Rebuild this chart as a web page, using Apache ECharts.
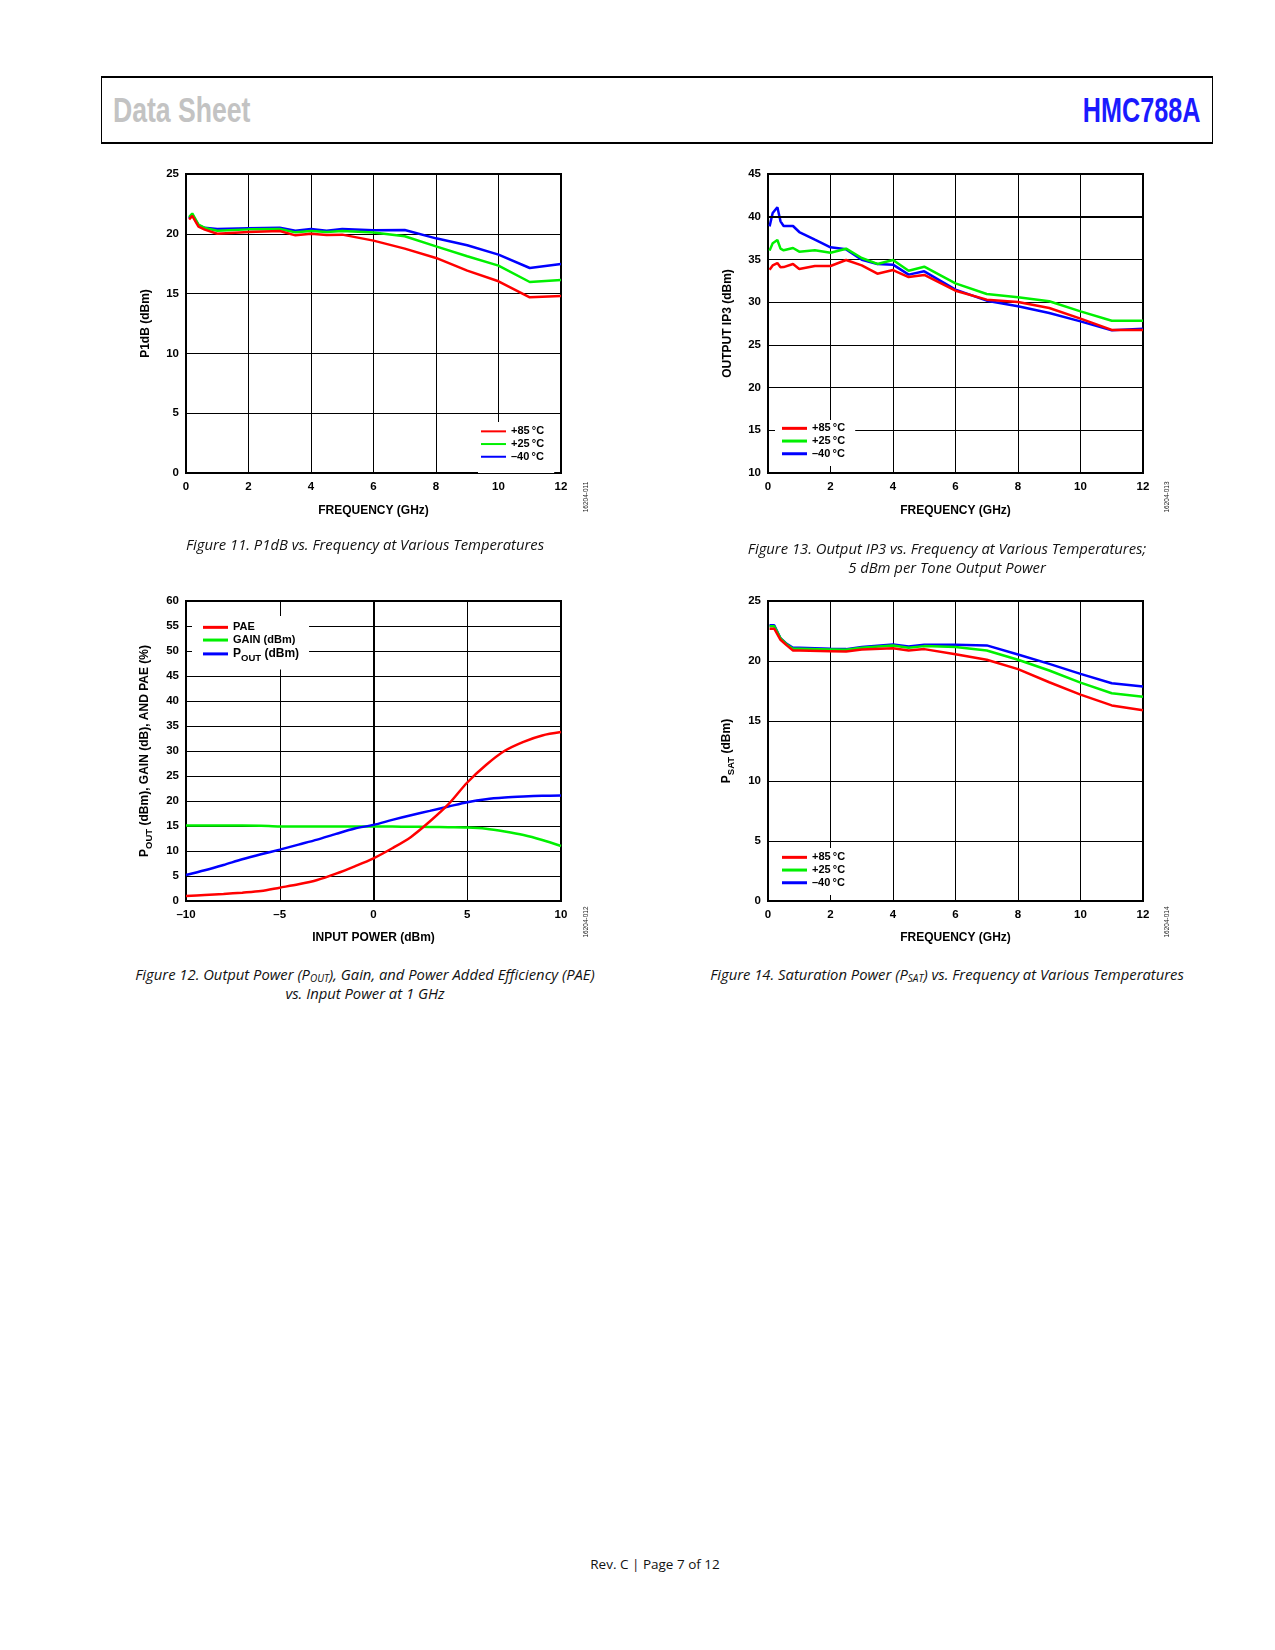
<!DOCTYPE html>
<html>
<head>
<meta charset="utf-8">
<title>HMC788A</title>
<script src="https://cdn.jsdelivr.net/npm/echarts/dist/echarts.min.js"></script>
<style>
  html, body { margin: 0; padding: 0; background: #fff; }
  #page { position: relative; width: 1275px; height: 1650px; overflow: hidden; background: #fff; }
  .chart { position: absolute; width: 500px; height: 380px; }
  .hdr { position: absolute; left: 101px; top: 76px; width: 1110px; height: 64px;
         border-top: 2px solid #000; border-bottom: 2px solid #000;
         border-left: 1px solid #000; border-right: 1px solid #000; }
  .hdr span { position: absolute; top: 12px; font-family: "Liberation Sans", sans-serif;
              font-weight: bold; font-size: 35px; white-space: nowrap; }
  .cap { position: absolute; text-align: center; font-family: "Open Sans", sans-serif; font-style: italic;
         font-size: 14.8px; line-height: 19px; color: #111; }
  .cap sub { font-size: 10px; vertical-align: -2px; line-height: 0; }
  .fid { position: absolute; font-family: "Liberation Sans", sans-serif; font-size: 6.5px; color: #222;
         transform: translate(-50%, -50%) rotate(-90deg); white-space: nowrap; }
  .foot { position: absolute; left: 0; width: 1310px; top: 1555px; text-align: center;
          font-family: "Open Sans", sans-serif; font-size: 13.5px; color: #111; }
</style>
</head>
<body>
<div id="page">
  <div class="hdr">
    <span style="left:11px;color:#c3c3c3;transform:scaleX(0.76);transform-origin:left center;">Data Sheet</span>
    <span style="right:12px;color:#1a1aff;transform:scaleX(0.72);transform-origin:right center;">HMC788A</span>
  </div>

  <div id="c11" class="chart" style="left:100px;top:150px;"></div>
  <div id="c13" class="chart" style="left:680px;top:150px;"></div>
  <div id="c12" class="chart" style="left:100px;top:577px;"></div>
  <div id="c14" class="chart" style="left:680px;top:577px;"></div>

  <div class="fid" style="left:585px;top:497px;">16204-011</div>
  <div class="fid" style="left:1166px;top:497px;">16204-013</div>
  <div class="fid" style="left:585px;top:922px;">16204-012</div>
  <div class="fid" style="left:1166px;top:922px;">16204-014</div>

  <div class="cap" style="left:65px;width:600px;top:535px;">Figure 11. P1dB vs. Frequency at Various Temperatures</div>
  <div class="cap" style="left:647px;width:600px;top:539px;">Figure 13. Output IP3 vs. Frequency at Various Temperatures;<br>5 dBm per Tone Output Power</div>
  <div class="cap" style="left:15px;width:700px;top:965px;">Figure 12. Output Power (P<sub>OUT</sub>), Gain, and Power Added Efficiency (PAE)<br>vs. Input Power at 1 GHz</div>
  <div class="cap" style="left:597px;width:700px;top:965px;">Figure 14. Saturation Power (P<sub>SAT</sub>) vs. Frequency at Various Temperatures</div>

  <div class="foot">Rev. C | Page 7 of 12</div>
</div>

<script>
// ---- Figure 11: P1dB vs frequency ----
var p1dbFreq = [0.1, 0.2, 0.4, 0.6, 1, 2, 3, 3.5, 4, 4.5, 5, 6, 7, 8, 9, 10, 11, 12];
var p1db85   = [21.2, 21.5, 20.6, 20.35, 20.0, 20.15, 20.23, 19.87, 20.0, 19.9, 19.93, 19.43, 18.76, 17.98, 16.92, 16.03, 14.69, 14.8];
var p1db25   = [21.4, 21.7, 20.76, 20.49, 20.26, 20.37, 20.4, 20.12, 20.23, 20.15, 20.23, 20.1, 19.79, 18.95, 18.12, 17.34, 15.97, 16.14];
var p1dbM40  = [21.3, 21.6, 20.7, 20.5, 20.4, 20.46, 20.51, 20.26, 20.4, 20.26, 20.4, 20.29, 20.32, 19.62, 19.04, 18.26, 17.14, 17.48];

// ---- Figure 13: Output IP3 vs frequency ----
var ip3Freq = [0.05, 0.15, 0.3, 0.4, 0.5, 0.8, 1, 1.5, 2, 2.5, 3, 3.5, 4, 4.5, 5, 6, 7, 8, 9, 10, 11, 12];
var ip385   = [33.8, 34.3, 34.58, 34.08, 34.1, 34.47, 33.88, 34.23, 34.23, 34.93, 34.31, 33.33, 33.76, 32.94, 33.18, 31.34, 30.29, 30.02, 29.32, 28.07, 26.75, 26.75];
var ip325   = [36.03, 36.9, 37.27, 36.26, 36.07, 36.34, 35.91, 36.07, 35.79, 36.26, 35.17, 34.47, 34.93, 33.68, 34.15, 32.2, 30.95, 30.56, 30.1, 28.92, 27.83, 27.83];
var ip3M40  = [38.87, 40.43, 41.1, 39.46, 38.91, 38.91, 38.21, 37.31, 36.42, 36.18, 34.97, 34.47, 34.39, 33.22, 33.61, 31.46, 30.17, 29.51, 28.73, 27.75, 26.7, 26.9];

// ---- Figure 12: Pout, gain, PAE vs input power at 1 GHz ----
var pin  = [-10, -9, -8, -7, -6, -5, -4, -3, -2, -1, 0, 1, 2, 3, 4, 5, 6, 7, 8, 9, 10];
var pae  = [1.0, 1.2, 1.4, 1.67, 2.0, 2.67, 3.34, 4.2, 5.47, 6.94, 8.54, 10.55, 12.82, 15.89, 19.36, 23.7, 27.2, 30.04, 31.84, 33.11, 33.78];
var gain = [15.09, 15.09, 15.09, 15.09, 15.05, 14.9, 14.9, 14.9, 14.9, 14.9, 14.9, 14.88, 14.85, 14.8, 14.75, 14.69, 14.45, 13.9, 13.2, 12.2, 11.0];
var pout = [5.2, 6.14, 7.2, 8.34, 9.35, 10.28, 11.28, 12.28, 13.42, 14.49, 15.22, 16.22, 17.16, 18.02, 18.89, 19.76, 20.36, 20.69, 20.89, 21.03, 21.09];

// ---- Figure 14: Psat vs frequency ----
var psatFreq = [0.05, 0.2, 0.4, 0.6, 0.8, 1, 2, 2.5, 3, 4, 4.5, 5, 6, 7, 8, 9, 10, 11, 12];
var psat85   = [22.69, 22.69, 21.77, 21.3, 20.88, 20.88, 20.82, 20.79, 20.96, 21.07, 20.88, 20.99, 20.57, 20.1, 19.32, 18.23, 17.2, 16.3, 15.9];
var psat25   = [22.9, 22.9, 21.88, 21.38, 21.02, 21.02, 20.96, 20.93, 21.1, 21.3, 21.1, 21.24, 21.16, 20.88, 20.1, 19.21, 18.2, 17.31, 17.02];
var psatM40  = [22.97, 22.97, 21.9, 21.43, 21.1, 21.1, 21.02, 20.99, 21.16, 21.38, 21.21, 21.35, 21.35, 21.3, 20.54, 19.76, 18.93, 18.15, 17.88];

var tempNames = ["+85\u2009°C", "+25\u2009°C", "–40\u2009°C"];
var RED = "#ff0000", GREEN = "#00f000", BLUE = "#0000ff";
var FONT = "Liberation Sans";

function pair(xs, ys) {
    var out = [];
    for (var i = 0; i < xs.length; i++) out.push([xs[i], ys[i]]);
    return out;
}

function line(name, xs, ys, color, smooth) {
    return {
        type: "line",
        name: name,
        data: pair(xs, ys),
        symbol: "none",
        smooth: smooth || false,
        animation: false,
        itemStyle: { color: color },
        lineStyle: { color: color, width: 2.5 }
    };
}

var dash = function (v) { return String(v).replace("-", "–"); };

var rich = {
    b: { fontFamily: FONT, fontWeight: "bold", fontSize: 12, lineHeight: 15, color: "#000" },
    s: { fontFamily: FONT, fontWeight: "bold", fontSize: 9.5, lineHeight: 15, color: "#000", verticalAlign: "bottom", padding: [0, 0, -2, 0] }
};

function axisX(min, max, step, name, gap) {
    return {
        type: "value", min: min, max: max, interval: step,
        name: name, nameLocation: "middle", nameGap: gap,
        nameTextStyle: { fontFamily: FONT, fontWeight: "bold", fontSize: 12, color: "#000" },
        axisLine: { show: true, lineStyle: { color: "#000", width: 2 } },
        axisTick: { show: false },
        axisLabel: { fontFamily: FONT, fontWeight: "bold", fontSize: 11.5, color: "#000", margin: 8, formatter: dash },
        splitLine: { show: true, lineStyle: { color: "#000", width: 1 } }
    };
}

function axisY(min, max, step, name) {
    return {
        type: "value", min: min, max: max, interval: step,
        name: name, nameLocation: "middle", nameGap: 34, nameRotate: 90,
        nameTextStyle: { fontFamily: FONT, fontWeight: "bold", fontSize: 12, color: "#000", rich: rich },
        axisLine: { show: true, lineStyle: { color: "#000", width: 2 } },
        axisTick: { show: false },
        axisLabel: { fontFamily: FONT, fontWeight: "bold", fontSize: 11.5, color: "#000", margin: 7 },
        splitLine: { show: true, lineStyle: { color: "#000", width: 1 } }
    };
}

function legend(left, top, padding, iconH, names, formatter) {
    var l = {
        data: names,
        orient: "vertical",
        left: left, top: top,
        padding: padding,
        itemGap: 0,
        itemWidth: 25,
        itemHeight: iconH,
        icon: "rect",
        backgroundColor: "#fff",
        selectedMode: false,
        textStyle: { fontFamily: FONT, fontWeight: "bold", fontSize: 11, lineHeight: 12.7, color: "#000", padding: [0, 0, 0, 0], rich: rich }
    };
    if (formatter) l.formatter = formatter;
    return l;
}

function grid(left) {
    return { left: left, top: 24, width: 375, height: 299, show: true, borderColor: "#000", borderWidth: 2, backgroundColor: "transparent" };
}

// Figure 11
var c11 = echarts.init(document.getElementById("c11"), null, { renderer: "canvas" });
c11.setOption({
    animation: false,
    grid: grid(86),
    xAxis: axisX(0, 12, 2, "FREQUENCY (GHz)", 32),
    yAxis: axisY(0, 25, 5, "P1dB (dBm)"),
    legend: legend(378, 272, [3, 10, 10, 3], 2, tempNames),
    series: [
        line(tempNames[2], p1dbFreq, p1dbM40, BLUE),
        line(tempNames[1], p1dbFreq, p1db25, GREEN),
        line(tempNames[0], p1dbFreq, p1db85, RED)
    ]
});

// Figure 13
var s13 = [
    line(tempNames[2], ip3Freq, ip3M40, BLUE),
    line(tempNames[1], ip3Freq, ip325, GREEN),
    line(tempNames[0], ip3Freq, ip385, RED)
];
s13[0].markLine = {
    silent: true, symbol: "none", animation: false,
    label: { show: false },
    lineStyle: { color: "#000", width: 2, type: "solid" },
    data: [{ yAxis: 40 }]
};
var c13 = echarts.init(document.getElementById("c13"));
c13.setOption({
    animation: false,
    grid: grid(88),
    xAxis: axisX(0, 12, 2, "FREQUENCY (GHz)", 32),
    yAxis: axisY(10, 45, 5, "OUTPUT IP3 (dBm)"),
    legend: legend(95, 270, [2, 10, 6, 7], 3, tempNames),
    series: s13
});

// Figure 12
var names12 = ["PAE", "GAIN (dBm)", "POUT (dBm)"];
var c12 = echarts.init(document.getElementById("c12"));
var g12 = grid(86); g12.height = 300;
c12.setOption({
    animation: false,
    grid: g12,
    xAxis: axisX(-10, 10, 5, "INPUT POWER (dBm)", 31),
    yAxis: axisY(0, 60, 5, "{b|P}{s|OUT}{b| (dBm), GAIN (dB), AND PAE (%)}"),
    legend: legend(92, 39, [5, 10, 6, 11], 3, names12, function (n) {
        return n === "POUT (dBm)" ? "{b|P}{s|OUT}{b| (dBm)}" : n;
    }),
    series: [
        line(names12[1], pin, gain, GREEN, 0.3),
        line(names12[2], pin, pout, BLUE, 0.3),
        line(names12[0], pin, pae, RED, 0.3)
    ]
});

// Figure 14
var c14 = echarts.init(document.getElementById("c14"));
var g14 = grid(88); g14.height = 300;
c14.setOption({
    animation: false,
    grid: g14,
    xAxis: axisX(0, 12, 2, "FREQUENCY (GHz)", 31),
    yAxis: axisY(0, 25, 5, "{b|P}{s|SAT}{b| (dBm)}"),
    legend: legend(95, 271, [3, 10, 6, 7], 3, tempNames),
    series: [
        line(tempNames[2], psatFreq, psatM40, BLUE),
        line(tempNames[1], psatFreq, psat25, GREEN),
        line(tempNames[0], psatFreq, psat85, RED)
    ]
});

window.addEventListener("resize", function () {
    c11.resize(); c12.resize(); c13.resize(); c14.resize();
});
</script>
</body>
</html>
